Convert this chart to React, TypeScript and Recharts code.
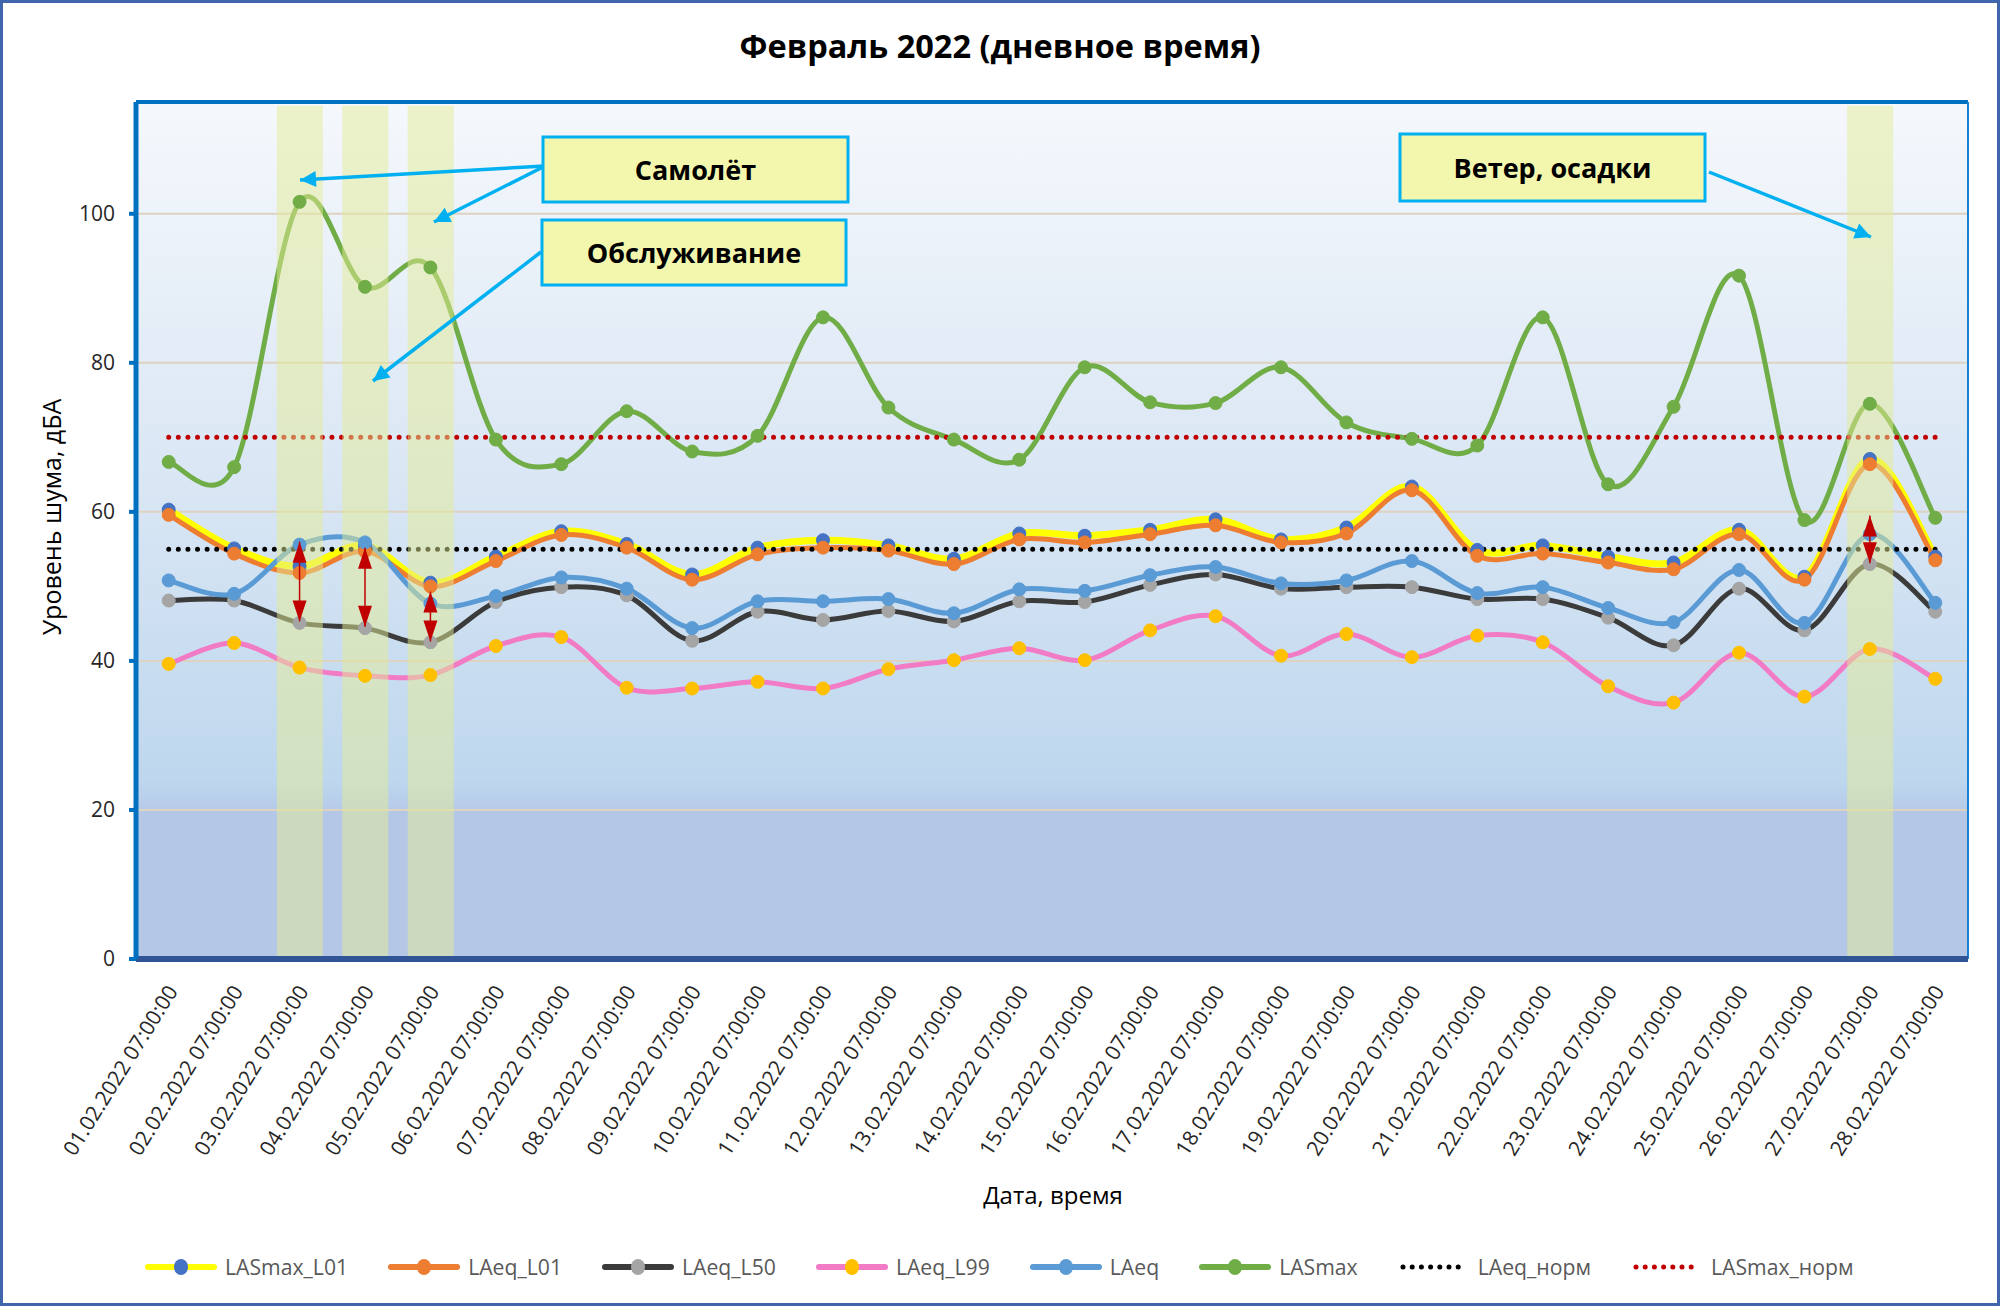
import React from "react";
import {
  ComposedChart,
  Line,
  Bar,
  XAxis,
  YAxis,
  CartesianGrid,
  ReferenceLine,
  ReferenceDot,
} from "recharts";

const FONT = "'Open Sans', 'Noto Sans', sans-serif";

const dates = [
  "01.02.2022 07:00:00", "02.02.2022 07:00:00", "03.02.2022 07:00:00", "04.02.2022 07:00:00",
  "05.02.2022 07:00:00", "06.02.2022 07:00:00", "07.02.2022 07:00:00", "08.02.2022 07:00:00",
  "09.02.2022 07:00:00", "10.02.2022 07:00:00", "11.02.2022 07:00:00", "12.02.2022 07:00:00",
  "13.02.2022 07:00:00", "14.02.2022 07:00:00", "15.02.2022 07:00:00", "16.02.2022 07:00:00",
  "17.02.2022 07:00:00", "18.02.2022 07:00:00", "19.02.2022 07:00:00", "20.02.2022 07:00:00",
  "21.02.2022 07:00:00", "22.02.2022 07:00:00", "23.02.2022 07:00:00", "24.02.2022 07:00:00",
  "25.02.2022 07:00:00", "26.02.2022 07:00:00", "27.02.2022 07:00:00", "28.02.2022 07:00:00",
];

const lasmaxL01 = [60.3, 55.1, 52.7, 55.5, 50.5, 54.0, 57.4, 55.7, 51.6, 55.2, 56.2, 55.5, 53.7, 57.1, 56.8, 57.6, 59.0, 56.3, 57.9, 63.4, 54.9, 55.5, 54.0, 53.2, 57.6, 51.3, 67.1, 54.0];
const laeqL01 = [59.6, 54.4, 51.8, 54.7, 50.0, 53.4, 56.9, 55.2, 50.9, 54.3, 55.2, 54.8, 53.0, 56.3, 55.9, 57.0, 58.2, 55.9, 57.1, 62.9, 54.1, 54.4, 53.2, 52.3, 57.0, 50.9, 66.4, 53.5];
const laeqL50 = [48.1, 48.1, 45.1, 44.4, 42.5, 47.9, 49.9, 48.8, 42.7, 46.6, 45.5, 46.7, 45.3, 48.0, 47.9, 50.2, 51.6, 49.7, 49.9, 49.9, 48.3, 48.3, 45.8, 42.1, 49.7, 44.1, 53.0, 46.6];
const laeqL99 = [39.6, 42.4, 39.1, 38.0, 38.1, 42.0, 43.2, 36.4, 36.3, 37.2, 36.3, 38.9, 40.1, 41.7, 40.1, 44.1, 46.0, 40.7, 43.6, 40.5, 43.4, 42.5, 36.6, 34.4, 41.1, 35.2, 41.6, 37.6];
const laeq = [50.8, 49.0, 55.6, 55.9, 47.7, 48.7, 51.2, 49.7, 44.4, 48.0, 48.0, 48.3, 46.4, 49.6, 49.4, 51.5, 52.6, 50.4, 50.8, 53.4, 49.1, 49.9, 47.1, 45.2, 52.2, 45.1, 57.0, 47.8];
const lasmax = [66.7, 66.0, 101.6, 90.2, 92.8, 69.7, 66.4, 73.5, 68.1, 70.2, 86.1, 74.0, 69.7, 67.0, 79.4, 74.7, 74.6, 79.4, 72.0, 69.8, 68.9, 86.1, 63.7, 74.1, 91.7, 58.9, 74.5, 59.2];
const laeqNorm = [55, 55, 55, 55, 55, 55, 55, 55, 55, 55, 55, 55, 55, 55, 55, 55, 55, 55, 55, 55, 55, 55, 55, 55, 55, 55, 55, 55];
const lasmaxNorm = [70, 70, 70, 70, 70, 70, 70, 70, 70, 70, 70, 70, 70, 70, 70, 70, 70, 70, 70, 70, 70, 70, 70, 70, 70, 70, 70, 70];

// highlighted days (aircraft / maintenance / wind)
const highlight = [null, null, 114.5, 114.5, 114.5, null, null, null, null, null, null, null, null, null, null, null, null, null, null, null, null, null, null, null, null, null, 114.5, null];

const yTicks = [0, 20, 40, 60, 80, 100];

// red double arrows: day index, top and bottom value
const arrowDays = [2, 3, 4, 26];
const arrowTop = [56.0, 55.2, 49.3, 59.5];
const arrowBottom = [45.3, 44.6, 42.6, 53.1];

const series = [
  { key: "lasmaxL01", name: "LASmax_L01", values: lasmaxL01, color: "#ffff00", marker: "#4472c4", width: 7 },
  { key: "laeqL01", name: "LAeq_L01", values: laeqL01, color: "#ed7d31", marker: "#ed7d31", width: 5 },
  { key: "laeqL50", name: "LAeq_L50", values: laeqL50, color: "#3b3b3b", marker: "#a5a5a5", width: 5 },
  { key: "laeqL99", name: "LAeq_L99", values: laeqL99, color: "#f27bc6", marker: "#ffc000", width: 5 },
  { key: "laeq", name: "LAeq", values: laeq, color: "#5b9bd5", marker: "#5b9bd5", width: 5 },
  { key: "lasmax", name: "LASmax", values: lasmax, color: "#70ad47", marker: "#70ad47", width: 5 },
];

const norms = [
  { key: "laeqNorm", name: "LAeq_норм", values: laeqNorm, color: "#000000" },
  { key: "lasmaxNorm", name: "LASmax_норм", values: lasmaxNorm, color: "#c00000" },
];

const rows = dates.map((d, i) => {
  const row: any = { pos: i + 0.5, date: d, band: highlight[i] };
  series.forEach((s) => (row[s.key] = s.values[i]));
  norms.forEach((s) => (row[s.key] = s.values[i]));
  return row;
});

const boundaryTicks = rows.map((_, i) => i).concat(rows.length);
const centerTicks = rows.map((r) => r.pos);

// Excel-like smoothed line (Catmull-Rom through the points)
const excelSmooth = (context: any) => {
  let pts: number[][] = [];
  return {
    areaStart() {},
    areaEnd() {},
    lineStart() {
      pts = [];
    },
    point(x: number, y: number) {
      pts.push([+x, +y]);
    },
    lineEnd() {
      const n = pts.length;
      if (!n) return;
      context.moveTo(pts[0][0], pts[0][1]);
      for (let i = 0; i < n - 1; i++) {
        const p0 = pts[Math.max(i - 1, 0)];
        const p1 = pts[i];
        const p2 = pts[i + 1];
        const p3 = pts[Math.min(i + 2, n - 1)];
        context.bezierCurveTo(
          p1[0] + (p2[0] - p0[0]) / 6,
          p1[1] + (p2[1] - p0[1]) / 6,
          p2[0] - (p3[0] - p1[0]) / 6,
          p2[1] - (p3[1] - p1[1]) / 6,
          p2[0],
          p2[1]
        );
      }
    },
  };
};

const DateTick = (props: any) => {
  const { x, y, payload } = props;
  const tx = x + 3;
  const ty = y + 12;
  return (
    <text
      x={tx}
      y={ty}
      transform={`rotate(-58 ${tx} ${ty})`}
      textAnchor="end"
      dominantBaseline="central"
      fontSize={21}
      fontFamily={FONT}
      fill="#262626">
      {dates[Math.floor(payload.value)]}
    </text>
  );
};

const ArrowHead = (props: any) => {
  const { cx, cy, dir } = props;
  const s = dir === "up" ? 1 : -1;
  return (
    <polygon
      points={`${cx},${cy} ${cx - 7},${cy + s * 21} ${cx + 7},${cy + s * 21}`}
      fill="#c00000"
    />
  );
};

const Legend = () => (
  <div
    style={{
      position: "absolute",
      left: 144,
      top: 1252,
      display: "flex",
      alignItems: "center",
      gap: 39,
      fontFamily: FONT,
      fontSize: 21.2,
      color: "#595959",
    }}>
    {series.map((s) => (
      <div key={s.key} style={{ display: "flex", alignItems: "center" }}>
        <svg width={74} height={28}>
          <line x1={4} y1={14} x2={70} y2={14} stroke={s.color} strokeWidth={6} strokeLinecap="round" />
          <ellipse cx={37} cy={14} rx={7} ry={8} fill={s.marker} />
        </svg>
        <span style={{ marginLeft: 7 }}>{s.name}</span>
      </div>
    ))}
    {norms.map((s) => (
      <div key={s.key} style={{ display: "flex", alignItems: "center" }}>
        <svg width={74} height={28}>
          <line x1={6} y1={14} x2={70} y2={14} stroke={s.color} strokeWidth={5} strokeLinecap="round" strokeDasharray="0 9.2" />
        </svg>
        <span style={{ marginLeft: 7 }}>{s.name}</span>
      </div>
    ))}
  </div>
);

const callouts = [
  { text: "Самолёт", x: 543, y: 137, w: 305, h: 65 },
  { text: "Обслуживание", x: 542, y: 220, w: 304, h: 65 },
  { text: "Ветер, осадки", x: 1400, y: 134, w: 305, h: 67 },
];

const pointers = [
  { x1: 545, y1: 166, x2: 300, y2: 180 },
  { x1: 545, y1: 166, x2: 434, y2: 222 },
  { x1: 541, y1: 252, x2: 373, y2: 381 },
  { x1: 1709, y1: 172, x2: 1871, y2: 237 },
];

export default function App() {
  return (
    <div style={{ position: "absolute", left: 0, top: 0, width: 2000, height: 1306, background: "#fff" }}>
      <ComposedChart width={2000} height={1306} data={rows} margin={{ top: 102, right: 32, bottom: 0, left: 0 }}>
        <defs>
          <linearGradient id="plotBg" x1="0" y1="0" x2="0" y2="1">
            <stop offset="0%" stopColor="#f5f8fc" />
            <stop offset="45%" stopColor="#d9e6f4" />
            <stop offset="79%" stopColor="#bed7ee" />
            <stop offset="82.6%" stopColor="#b6cbe9" />
            <stop offset="82.7%" stopColor="#b4c7e7" />
            <stop offset="100%" stopColor="#b4c7e7" />
          </linearGradient>
        </defs>
        <CartesianGrid xAxisId="grid" vertical={false} stroke="#ddd3c0" strokeWidth={2} fill="url(#plotBg)" fillOpacity={1} />
        <CartesianGrid xAxisId="grid" horizontal={false} stroke="#ffffff" strokeWidth={2} />
        <XAxis
          xAxisId="grid"
          type="number"
          dataKey="pos"
          domain={[0, 28]}
          ticks={boundaryTicks}
          interval={0}
          allowDataOverflow
          height={14}
          tick={false}
          tickSize={10}
          axisLine={{ stroke: "#2f5597", strokeWidth: 6 }}
          tickLine={{ stroke: "#2f5597", strokeWidth: 4 }}
        />
        <XAxis
          xAxisId="lbl"
          type="number"
          dataKey="pos"
          domain={[0, 28]}
          ticks={centerTicks}
          interval={0}
          allowDataOverflow
          height={333}
          axisLine={false}
          tickLine={false}
          tickSize={0}
          tick={<DateTick />}
        />
        <YAxis
          width={136}
          domain={[0, 115]}
          ticks={yTicks}
          allowDataOverflow
          interval={0}
          tickSize={7}
          tickMargin={14}
          tick={{ fontSize: 21, fill: "#262626", fontFamily: FONT }}
          axisLine={{ stroke: "#0070c0", strokeWidth: 5 }}
          tickLine={{ stroke: "#0070c0", strokeWidth: 4 }}
        />
        <ReferenceLine xAxisId="grid" y={115} stroke="#0070c0" strokeWidth={4} />
        <ReferenceLine xAxisId="grid" x={28} stroke="#1a7fd0" strokeWidth={2} />

        {series.map((s) => (
          <Line
            key={s.key}
            xAxisId="grid"
            dataKey={s.key}
            name={s.name}
            type={excelSmooth as any}
            stroke={s.color}
            strokeWidth={s.width}
            dot={{ r: 6.5, fill: s.marker, stroke: s.marker, strokeWidth: 1 }}
            activeDot={false}
            isAnimationActive={false}
          />
        ))}
        {norms.map((s) => (
          <Line
            key={s.key}
            xAxisId="grid"
            dataKey={s.key}
            name={s.name}
            type="linear"
            stroke={s.color}
            strokeWidth={5}
            strokeLinecap="round"
            strokeDasharray="0 9.6"
            dot={false}
            activeDot={false}
            isAnimationActive={false}
          />
        ))}

        <Bar
          xAxisId="grid"
          dataKey="band"
          barSize={46}
          fill="#e4ec95"
          fillOpacity={0.5}
          isAnimationActive={false}
          zIndex={450}
        />

        {arrowDays.map((d, i) => (
          <ReferenceLine
            key={`al${i}`}
            xAxisId="grid"
            segment={[
              { x: d + 0.5, y: arrowTop[i] },
              { x: d + 0.5, y: arrowBottom[i] },
            ]}
            stroke="#c00000"
            strokeWidth={1.5}
            zIndex={700}
          />
        ))}
        {arrowDays.map((d, i) => (
          <ReferenceDot
            key={`at${i}`}
            xAxisId="grid"
            x={d + 0.5}
            y={arrowTop[i]}
            r={1}
            zIndex={700}
            shape={(p: any) => <ArrowHead {...p} dir="up" />}
          />
        ))}
        {arrowDays.map((d, i) => (
          <ReferenceDot
            key={`ab${i}`}
            xAxisId="grid"
            x={d + 0.5}
            y={arrowBottom[i]}
            r={1}
            zIndex={700}
            shape={(p: any) => <ArrowHead {...p} dir="down" />}
          />
        ))}
      </ComposedChart>

      <svg width={2000} height={1306} style={{ position: "absolute", left: 0, top: 0, pointerEvents: "none" }}>
        <defs>
          <marker id="cyanHead" viewBox="0 0 10 10" refX="10" refY="5" markerWidth="20" markerHeight="16" markerUnits="userSpaceOnUse" orient="auto">
            <path d="M0,0 L10,5 L0,10 z" fill="#00b0f0" />
          </marker>
        </defs>
        <text x={1000} y={45} textAnchor="middle" dominantBaseline="central" fontFamily={FONT} fontWeight={700} fontSize={32.5} fill="#000">
          Февраль 2022 (дневное время)
        </text>
        <text transform="translate(51,517) rotate(-90)" textAnchor="middle" dominantBaseline="central" fontFamily={FONT} fontSize={25} fill="#000">
          Уровень шума, дБА
        </text>
        <text x={1053} y={1194} textAnchor="middle" dominantBaseline="central" fontFamily={FONT} fontSize={24} fill="#000">
          Дата, время
        </text>
        {pointers.map((p, i) => (
          <line key={i} x1={p.x1} y1={p.y1} x2={p.x2} y2={p.y2} stroke="#00b0f0" strokeWidth={3.5} markerEnd="url(#cyanHead)" />
        ))}
        {callouts.map((c) => (
          <g key={c.text}>
            <rect x={c.x} y={c.y} width={c.w} height={c.h} fill="#f3f7ad" stroke="#00b0f0" strokeWidth={3} />
            <text x={c.x + c.w / 2} y={c.y + c.h / 2} textAnchor="middle" dominantBaseline="central" fontFamily={FONT} fontWeight={700} fontSize={27} fill="#000">
              {c.text}
            </text>
          </g>
        ))}
      </svg>

      <Legend />

      <div style={{ position: "absolute", left: 0, top: 0, width: 2000, height: 1306, boxSizing: "border-box", border: "3px solid #4065ad", pointerEvents: "none" }} />
    </div>
  );
}
